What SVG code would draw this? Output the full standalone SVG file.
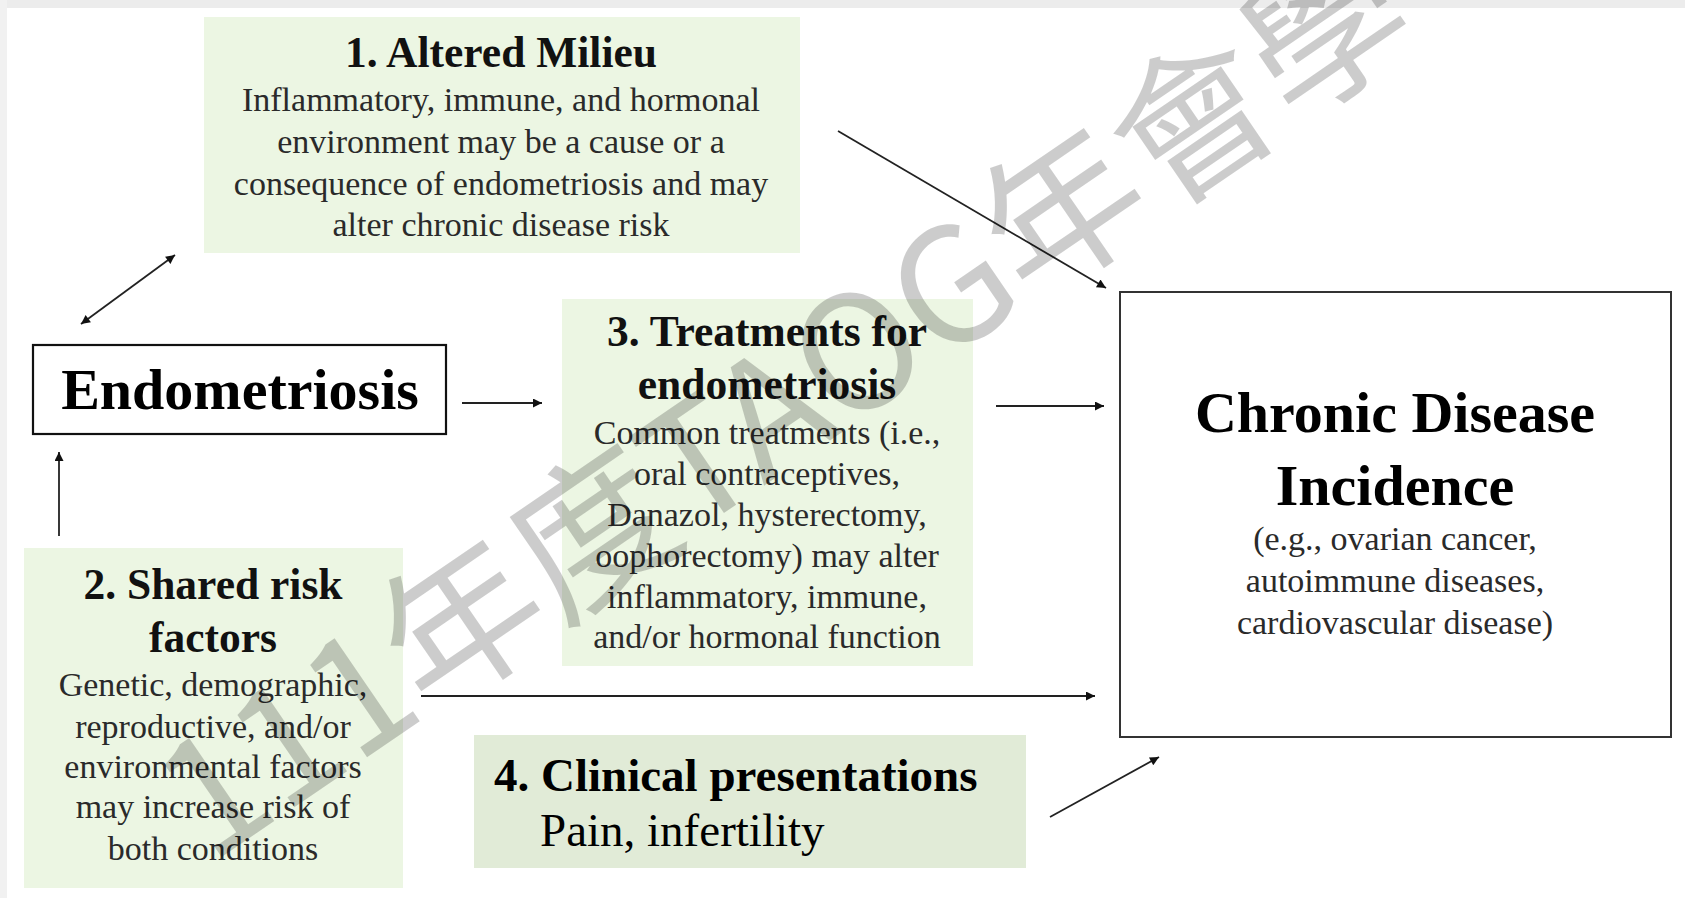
<svg xmlns="http://www.w3.org/2000/svg" width="1685" height="898" viewBox="0 0 1685 898">
  <defs>
    <marker id="ah" viewBox="0 0 10 10" refX="10" refY="5" markerWidth="12" markerHeight="9" markerUnits="userSpaceOnUse" orient="auto-start-reverse">
      <path d="M0,0 L10,5 L0,10 z" fill="#111"/>
    </marker>
    <style>
      .green { fill: #ecf6e3; }
      .green4 { fill: #e1ebd7; }
      .serif { font-family: "Liberation Serif", "Times New Roman", serif; }
      .title { font-weight: bold; font-size: 43.5px; fill: #111; text-anchor: middle; }
      .body { font-size: 34px; fill: #2a2a2a; text-anchor: middle; }
      .big { font-weight: bold; font-size: 58px; fill: #000; text-anchor: middle; }
      .conn line { stroke: #222; stroke-width: 1.8; fill: none; marker-end: url(#ah); }
      .wm { font-family: "Noto Sans CJK TC", "Noto Sans", sans-serif; font-size: 159px; fill: #000; fill-opacity: 0.2; }
    </style>
  </defs>

  <rect x="0" y="0" width="1685" height="898" fill="#ffffff"/>
  <rect x="0" y="0" width="1685" height="8" fill="#ececec"/>
  <rect x="0" y="0" width="7" height="898" fill="#f1f1f1"/>

  <g id="node-altered-milieu">
    <rect class="green" x="204" y="17" width="596" height="236"/>
    <text class="serif title" x="501" y="67">1. Altered Milieu</text>
    <text class="serif body" x="501" y="111">Inflammatory, immune, and hormonal</text>
    <text class="serif body" x="501" y="153">environment may be a cause or a</text>
    <text class="serif body" x="501" y="195">consequence of endometriosis and may</text>
    <text class="serif body" x="501" y="236">alter chronic disease risk</text>
  </g>

  <g id="node-endometriosis">
    <rect x="33" y="345" width="413" height="89" fill="#fff" stroke="#111" stroke-width="2.2"/>
    <text class="serif big" x="240" y="409">Endometriosis</text>
  </g>

  <g id="node-treatments">
    <rect class="green" x="562" y="299" width="411" height="367"/>
    <text class="serif title" x="767" y="346">3. Treatments for</text>
    <text class="serif title" x="767" y="399">endometriosis</text>
    <text class="serif body" x="767" y="444">Common treatments (i.e.,</text>
    <text class="serif body" x="767" y="485">oral contraceptives,</text>
    <text class="serif body" x="767" y="526">Danazol, hysterectomy,</text>
    <text class="serif body" x="767" y="567">oophorectomy) may alter</text>
    <text class="serif body" x="767" y="608">inflammatory, immune,</text>
    <text class="serif body" x="767" y="648">and/or hormonal function</text>
  </g>

  <g id="node-shared-risk">
    <rect class="green" x="24" y="548" width="379" height="340"/>
    <text class="serif title" x="213" y="599">2. Shared risk</text>
    <text class="serif title" x="213" y="652">factors</text>
    <text class="serif body" x="213" y="696">Genetic, demographic,</text>
    <text class="serif body" x="213" y="738">reproductive, and/or</text>
    <text class="serif body" x="213" y="778">environmental factors</text>
    <text class="serif body" x="213" y="818">may increase risk of</text>
    <text class="serif body" x="213" y="860">both conditions</text>
  </g>

  <g id="node-clinical">
    <rect class="green4" x="474" y="735" width="552" height="133"/>
    <text class="serif" x="494" y="791" font-size="47" font-weight="bold" fill="#000">4. Clinical presentations</text>
    <text class="serif" x="540" y="846" font-size="47" fill="#000">Pain, infertility</text>
  </g>

  <g id="node-chronic">
    <rect x="1120" y="292" width="551" height="445" fill="#fff" stroke="#333" stroke-width="2"/>
    <text class="serif big" x="1395" y="432">Chronic Disease</text>
    <text class="serif big" x="1395" y="505">Incidence</text>
    <text class="serif body" x="1395" y="550">(e.g., ovarian cancer,</text>
    <text class="serif body" x="1395" y="592">autoimmune diseases,</text>
    <text class="serif body" x="1395" y="634">cardiovascular disease)</text>
  </g>

  <g id="connectors" class="conn">
    <line x1="81" y1="324" x2="175" y2="255" marker-start="url(#ah)"/>
    <line x1="462" y1="403" x2="542" y2="403"/>
    <line x1="838" y1="131" x2="1106" y2="288" stroke-width="1.5"/>
    <line x1="996" y1="406" x2="1104" y2="406"/>
    <line x1="421" y1="696" x2="1095" y2="696" stroke-width="2.5" stroke="#3a3a3a"/>
    <line x1="1050" y1="817" x2="1159" y2="757"/>
    <line x1="59" y1="536" x2="59" y2="452"/>
  </g>

  <text class="wm" transform="translate(210,865) rotate(-34.4)">111年度TAOG年會學</text>
</svg>
